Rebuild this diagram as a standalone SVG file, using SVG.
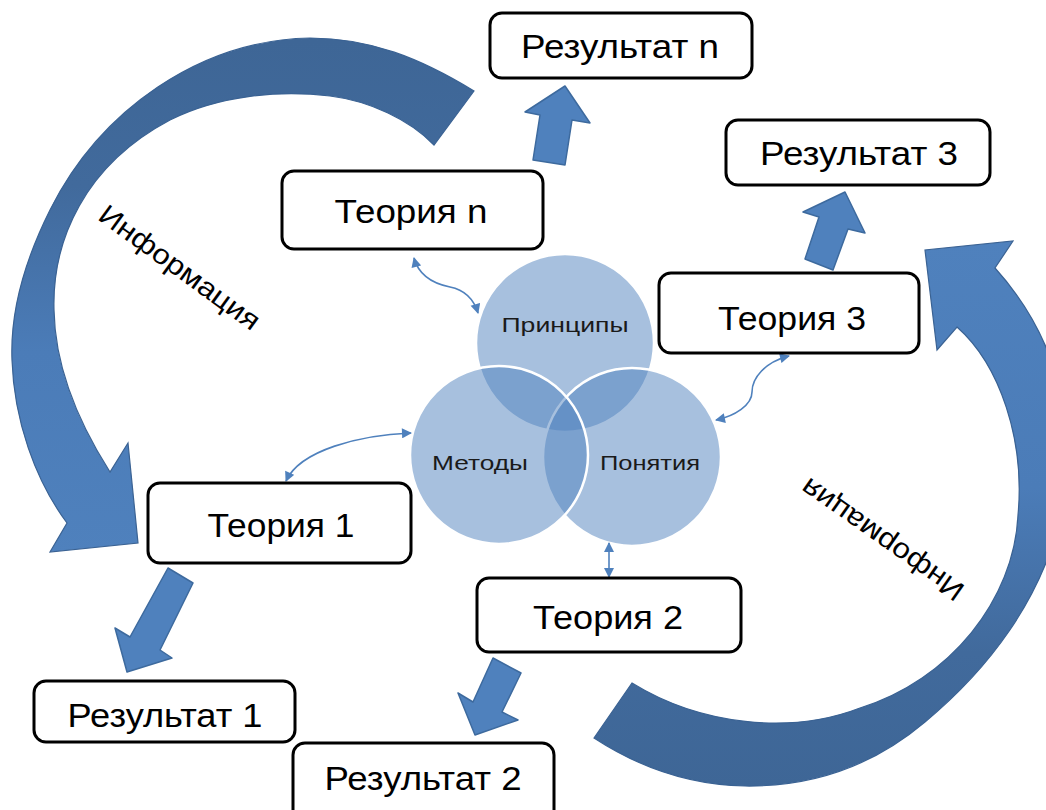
<svg xmlns="http://www.w3.org/2000/svg" width="1046" height="810" viewBox="0 0 1046 810">
<defs>
<style>
.box{fill:#fff;stroke:#000;stroke-width:3}
.bt{font-family:"Liberation Sans",Arial,sans-serif;font-size:33px;fill:#000;text-anchor:middle}
.ct{font-family:"Liberation Sans",Arial,sans-serif;font-size:21px;fill:#1a1a1a;text-anchor:middle}
.it{font-family:"Liberation Sans",Arial,sans-serif;font-size:28px;fill:#000;text-anchor:middle}
.blk{fill:#4f81bd;stroke:#3d6a9e;stroke-width:1.5;stroke-linejoin:round}
.circ{fill:#4f81bd;fill-opacity:0.5;stroke:#fff;stroke-width:2.5}
.con{fill:none;stroke:#4f81bd;stroke-width:1.6}
</style>
<linearGradient id="gL" gradientUnits="userSpaceOnUse" x1="0" y1="40" x2="0" y2="560">
<stop offset="0" stop-color="#3e6696"/><stop offset="0.28" stop-color="#416a9c"/><stop offset="0.6" stop-color="#4b7cb8"/><stop offset="1" stop-color="#4f81bd"/>
</linearGradient>
<linearGradient id="gR" gradientUnits="userSpaceOnUse" x1="0" y1="790" x2="0" y2="240">
<stop offset="0" stop-color="#3e6696"/><stop offset="0.25" stop-color="#416a9c"/><stop offset="0.55" stop-color="#4b7cb8"/><stop offset="1" stop-color="#4f81bd"/>
</linearGradient>
<marker id="ah" viewBox="0 0 10 10" refX="9" refY="5" markerWidth="11" markerHeight="10" markerUnits="userSpaceOnUse" orient="auto-start-reverse">
<path d="M0,0 L10,5 L0,10 z" fill="#4f81bd"/>
</marker>
</defs>
<rect width="1046" height="810" fill="#fff"/>

<g id="big-arrow-left">
<path fill="url(#gL)" stroke="#3a6293" stroke-width="1.2" d="M474,91 C420,58 370,38 310,38 C200,40 100,110 50,210 C25,260 10,310 12,360 C14,420 35,480 67,523 L50,552 L138,543 L128,443 L110,472 C80,425 55,370 54,310 C52,240 85,165 170,120 C220,95 280,90 330,96 C370,101 410,120 434,145 Z"/>
<text class="it" transform="translate(180,267) rotate(36)" dy="10" textLength="192" lengthAdjust="spacingAndGlyphs">Информация</text>
</g>

<g id="big-arrow-right">
<path fill="url(#gR)" stroke="#3a6293" stroke-width="1.2" d="M594,738 C640,768 690,785 745,786 C820,787 880,760 925,722 C990,668 1040,600 1060,520 C1080,430 1060,340 995,268 L1013,241 L925,250 L937,350 L957,327 C1000,365 1025,440 1018,515 C1014,600 950,680 860,708 C790,735 700,725 632,683 Z"/>
<text class="it" transform="translate(882,540) rotate(215)" dy="10" textLength="192" lengthAdjust="spacingAndGlyphs">Информация</text>
</g>

<g id="venn">
<circle class="circ" cx="565" cy="343" r="89"/>
<circle class="circ" cx="632" cy="457" r="89"/>
<circle class="circ" cx="499" cy="455" r="89"/>
<text class="ct" x="565" y="332" textLength="127" lengthAdjust="spacingAndGlyphs">Принципы</text>
<text class="ct" x="480" y="470" textLength="96" lengthAdjust="spacingAndGlyphs">Методы</text>
<text class="ct" x="650" y="470" textLength="100" lengthAdjust="spacingAndGlyphs">Понятия</text>
</g>

<g id="connectors">
<path class="con" marker-start="url(#ah)" marker-end="url(#ah)" d="M414,258 C420,280 440,285 450,287 C465,290 474,300 478,313"/>
<path class="con" marker-start="url(#ah)" marker-end="url(#ah)" d="M411,433 C360,435 300,450 286,481"/>
<path class="con" marker-start="url(#ah)" marker-end="url(#ah)" d="M789,356 C765,362 752,378 752,392 C752,405 735,416 716,420"/>
<path class="con" marker-start="url(#ah)" marker-end="url(#ah)" d="M609,543 L609,577"/>
<polygon class="blk" points="565,86 590,123 572,120 565,165 533,160 540,115 525,112"/>
<polygon class="blk" points="845,192 865,233 848,229 833,270 805,259 819,217 803,212"/>
<polygon class="blk" points="168,568 193,583 160,650 172,658 127,672 115,628 130,637"/>
<polygon class="blk" points="493,658 521,673 502,712 518,720 475,735 458,693 473,702"/>
</g>

<g id="rezultat-n"><rect class="box" x="490" y="13" width="262" height="65" rx="12"/><text class="bt" x="620" y="58" textLength="198" lengthAdjust="spacingAndGlyphs">Результат n</text></g>
<g id="rezultat-3"><rect class="box" x="726" y="120" width="264" height="65" rx="12"/><text class="bt" x="859" y="165" textLength="198" lengthAdjust="spacingAndGlyphs">Результат 3</text></g>
<g id="teoriya-n"><rect class="box" x="282" y="171" width="261" height="78" rx="12"/><text class="bt" x="411" y="223" textLength="153" lengthAdjust="spacingAndGlyphs">Теория n</text></g>
<g id="teoriya-3"><rect class="box" x="659" y="273" width="260" height="80" rx="12"/><text class="bt" x="792" y="330" textLength="148" lengthAdjust="spacingAndGlyphs">Теория 3</text></g>
<g id="teoriya-1"><rect class="box" x="148" y="483" width="263" height="80" rx="12"/><text class="bt" x="281" y="537" textLength="147" lengthAdjust="spacingAndGlyphs">Теория 1</text></g>
<g id="teoriya-2"><rect class="box" x="477" y="578" width="264" height="74" rx="12"/><text class="bt" x="608" y="629" textLength="150" lengthAdjust="spacingAndGlyphs">Теория 2</text></g>
<g id="rezultat-1"><rect class="box" x="34" y="681" width="261" height="61" rx="12"/><text class="bt" x="165" y="727" textLength="195" lengthAdjust="spacingAndGlyphs">Результат 1</text></g>
<g id="rezultat-2"><rect class="box" x="293" y="743" width="261" height="80" rx="12"/><text class="bt" x="423" y="790" textLength="197" lengthAdjust="spacingAndGlyphs">Результат 2</text></g>
</svg>
